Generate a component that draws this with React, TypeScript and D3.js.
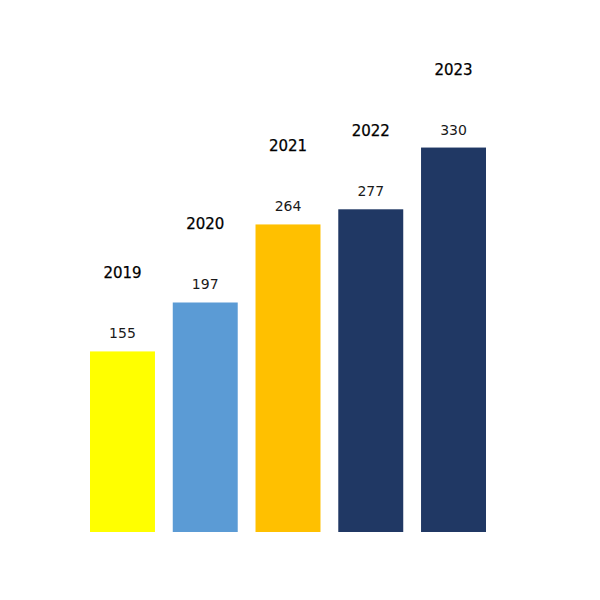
import React from "react";
import * as d3 from "d3";

const years = ["2019", "2020", "2021", "2022", "2023"];
const values = [155, 197, 264, 277, 330];
const colors = ["#FFFF00", "#5B9BD5", "#FFC000", "#203864", "#203864"];

const width = 600;
const height = 600;
const baseY = 532;

function App() {
  const x = d3.scaleBand<string>().domain(years).range([90, 486]).paddingInner(0.215).paddingOuter(0);
  const y = d3.scaleLinear().domain([0, 350]).range([baseY, baseY - 350 * 1.165]);

  return (
    <svg
      width={width}
      height={height}
      style={{ position: "absolute", left: 0, top: 0, background: "#fff" }}
      fontFamily="DejaVu Sans, sans-serif"
    >
      {years.map((yr, i) => {
        const bx = x(yr) as number;
        const top = y(values[i]);
        const cx = bx + x.bandwidth() / 2;
        return (
          <g key={yr}>
            <rect
              x={bx}
              y={top}
              width={x.bandwidth()}
              height={baseY - top}
              fill={colors[i]}
            />
            <text x={cx} y={top - 13} textAnchor="middle" fontSize={14} fill="#1a1a1a">
              {values[i]}
            </text>
            <text
              x={cx}
              y={top - 73}
              textAnchor="middle"
              fontSize={15}
              fill="#000"
              stroke="#000"
              strokeWidth={0.25}
            >
              {yr}
            </text>
          </g>
        );
      })}
    </svg>
  );
}

export default App;
